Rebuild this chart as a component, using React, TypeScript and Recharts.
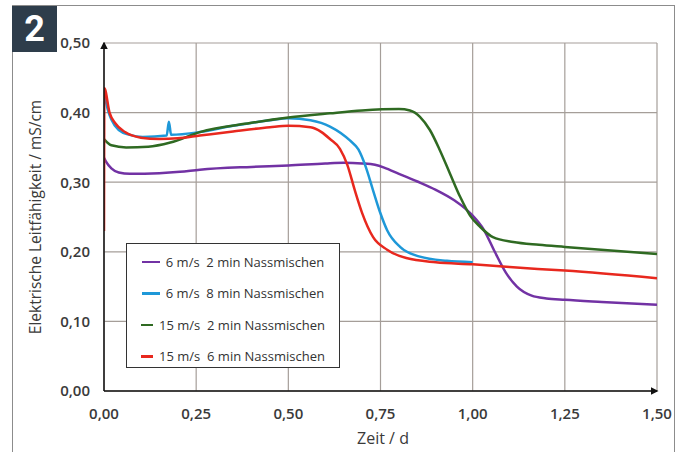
import { LineChart, Line, XAxis, YAxis, CartesianGrid, Legend } from "recharts";

// time in days, conductivity in mS/cm
const ticksX = [0, 0.25, 0.5, 0.75, 1, 1.25, 1.5];
const ticksY = [0, 0.1, 0.2, 0.3, 0.4, 0.5];

const purple6m2: [number, number][] = [
  [0, 0.335], [0.005, 0.33], [0.02, 0.32], [0.04, 0.314], [0.07, 0.312],
  [0.15, 0.313], [0.206, 0.315], [0.26, 0.318], [0.4, 0.322], [0.5, 0.324],
  [0.6, 0.327], [0.65, 0.328], [0.7, 0.327], [0.735, 0.325], [0.76, 0.321],
  [0.8, 0.312], [0.85, 0.301], [0.9, 0.289], [0.95, 0.274], [0.98, 0.262],
  [1.0, 0.252], [1.03, 0.232], [1.06, 0.2], [1.09, 0.17], [1.12, 0.15],
  [1.16, 0.137], [1.2, 0.133], [1.25, 0.131], [1.35, 0.128], [1.5, 0.124],
];

const blue6m8: [number, number][] = [
  [0, 0.43], [0.01, 0.405], [0.02, 0.39], [0.04, 0.375], [0.07, 0.368],
  [0.105, 0.365], [0.17, 0.367], [0.176, 0.387], [0.182, 0.368], [0.26, 0.372],
  [0.35, 0.381], [0.45, 0.389], [0.5, 0.392], [0.56, 0.389], [0.613, 0.38],
  [0.667, 0.36], [0.69, 0.347], [0.71, 0.322], [0.73, 0.288], [0.75, 0.255],
  [0.768, 0.231], [0.803, 0.207], [0.857, 0.193], [0.93, 0.187], [1.0, 0.185],
];

const green15m2: [number, number][] = [
  [0, 0.362], [0.02, 0.353], [0.06, 0.35], [0.12, 0.351], [0.18, 0.357],
  [0.26, 0.372], [0.396, 0.385], [0.5, 0.393], [0.613, 0.399], [0.7, 0.403],
  [0.8, 0.405], [0.83, 0.403], [0.857, 0.394], [0.884, 0.375], [0.911, 0.346],
  [0.938, 0.313], [0.966, 0.279], [0.993, 0.252], [1.02, 0.236], [1.055, 0.221],
  [1.11, 0.214], [1.18, 0.21], [1.25, 0.207], [1.5, 0.197],
];

const red15m6: [number, number][] = [
  [0, 0.23], [0.001, 0.435], [0.015, 0.4], [0.03, 0.385], [0.057, 0.372],
  [0.1, 0.364], [0.15, 0.362], [0.2, 0.363], [0.26, 0.367], [0.35, 0.373],
  [0.45, 0.379], [0.5, 0.381], [0.56, 0.379], [0.59, 0.372], [0.613, 0.362],
  [0.64, 0.348], [0.66, 0.325], [0.68, 0.289], [0.7, 0.256], [0.73, 0.221],
  [0.768, 0.203], [0.82, 0.191], [0.9, 0.185], [1.0, 0.182], [1.1, 0.178],
  [1.25, 0.173], [1.5, 0.162],
];

const seriesNames = [
  "6 m/s  2 min Nassmischen",
  "6 m/s  8 min Nassmischen",
  "15 m/s  2 min Nassmischen",
  "15 m/s  6 min Nassmischen",
];
const seriesColors = ["#7232a4", "#1e98d8", "#2f6a22", "#e8281e"];
const seriesData = [purple6m2, blue6m8, green15m2, red15m6];

const toPoints = (arr: [number, number][]) => arr.map(([x, y]) => ({ x, y }));

const fmt = (v: number) => v.toFixed(2).replace(".", ",");

const LegendBox = () => (
  <div
    style={{
      width: 214,
      height: 125,
      border: "1.5px solid #333",
      background: "#fff",
      boxSizing: "border-box",
      paddingTop: 2,
    }}
  >
    {seriesNames.map((name, i) => (
      <div
        key={name}
        style={{
          height: 31.5,
          display: "flex",
          alignItems: "center",
          justifyContent: "center",
          fontFamily: "Open Sans",
          fontSize: 13,
          color: "#333",
          whiteSpace: "pre",
        }}
      >
        <span
          style={{
            display: "inline-block",
            width: i < 2 ? 18 : 12,
            height: 2.5,
            background: seriesColors[i],
            marginRight: 6,
          }}
        />
        {name}
      </div>
    ))}
  </div>
);

const App = () => {
  return (
    <div
      style={{
        position: "fixed",
        left: 0,
        top: 0,
        width: 683,
        height: 452,
        background: "#fff",
        overflow: "hidden",
      }}
    >
      <div
        style={{
          position: "absolute",
          left: 12,
          top: 5,
          width: 663,
          height: 470,
          border: "1.5px solid #8c8c8c",
          boxSizing: "border-box",
        }}
      />
      <div
        style={{
          position: "absolute",
          left: 12,
          top: 6,
          width: 45,
          height: 46,
          background: "#2e3d4b",
          color: "#fff",
          fontFamily: "Liberation Sans Narrow, Roboto",
          fontWeight: "bold",
          fontSize: 36,
          lineHeight: "46px",
          textAlign: "center",
        }}
      >
        2
      </div>
      <div
        style={{
          position: "absolute",
          left: 35,
          top: 217,
          transform: "translate(-50%, -50%) rotate(-90deg)",
          fontFamily: "Open Sans",
          fontSize: 15.5,
          color: "#3a3a3a",
          whiteSpace: "nowrap",
        }}
      >
        Elektrische Leitfähigkeit / mS/cm
      </div>
      <div
        style={{
          position: "absolute",
          left: 383,
          top: 438,
          transform: "translate(-50%, -50%)",
          fontFamily: "Open Sans",
          fontSize: 16,
          color: "#3a3a3a",
          whiteSpace: "nowrap",
        }}
      >
        Zeit / d
      </div>
      <div style={{ position: "absolute", left: 0, top: 0 }}>
        <LineChart
          width={683}
          height={452}
          margin={{ top: 43, right: 26, left: 44, bottom: 31 }}
        >
          <defs>
            <marker
              id="arrowHead"
              viewBox="0 0 10 10"
              refX="8"
              refY="5"
              markerWidth="5"
              markerHeight="5"
              orient="auto-start-reverse"
            >
              <path d="M0,0 L10,5 L0,10 z" fill="#111" />
            </marker>
          </defs>
          <CartesianGrid stroke="#a59e99" strokeWidth={1.2} />
          <XAxis
            type="number"
            dataKey="x"
            domain={[0, 1.5]}
            ticks={ticksX}
            tickFormatter={fmt}
            allowDataOverflow
            height={30}
            tickLine={false}
            tickMargin={11}
            axisLine={{ stroke: "#111", strokeWidth: 1.5, markerEnd: "url(#arrowHead)" }}
            tick={{ fill: "#3a3a3a", fontSize: 15, fontFamily: "Open Sans", fontWeight: 600 }}
          />
          <YAxis
            type="number"
            dataKey="y"
            domain={[0, 0.5]}
            ticks={ticksY}
            tickFormatter={fmt}
            allowDataOverflow
            width={60}
            tickLine={false}
            tickMargin={8}
            axisLine={{ stroke: "#111", strokeWidth: 1.5, markerStart: "url(#arrowHead)" }}
            tick={{ fill: "#3a3a3a", fontSize: 15, fontFamily: "Open Sans", fontWeight: 600 }}
          />
          {seriesData.map((d, i) => (
            <Line
              key={seriesNames[i]}
              data={toPoints(d)}
              dataKey="y"
              name={seriesNames[i]}
              type="monotone"
              stroke={seriesColors[i]}
              strokeWidth={2.5}
              dot={false}
              isAnimationActive={false}
            />
          ))}
          <Legend
            verticalAlign="middle"
            align="center"
            layout="horizontal"
            content={() => <LegendBox />}
            wrapperStyle={{ left: 126, top: 243, width: 214, height: 125 }}
          />
        </LineChart>
      </div>
    </div>
  );
};

export default App;
